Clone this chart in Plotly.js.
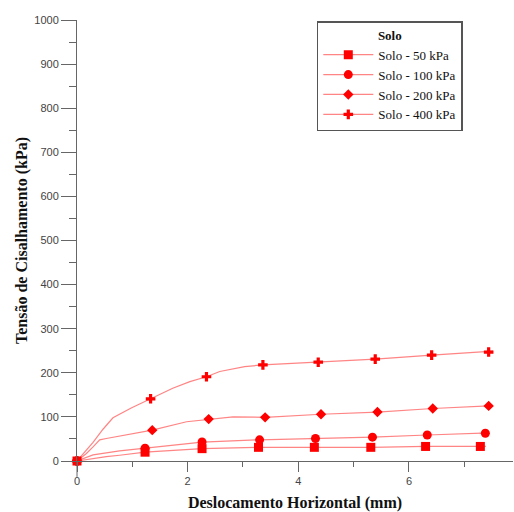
<!DOCTYPE html>
<html>
<head>
<meta charset="utf-8">
<script src="https://cdn.plot.ly/plotly-3.0.1.min.js"></script>
<style>html,body{margin:0;padding:0;background:#fff;}#chart{width:514px;height:512px;}</style>
</head>
<body>
<div id="chart"></div>
<script>
// Series names
const seriesNames = ['Solo - 50 kPa', 'Solo - 100 kPa', 'Solo - 200 kPa', 'Solo - 400 kPa'];

// Curve points (mm, kPa)
const s50x  = [0, 0.29, 0.53, 0.77, 1.23, 2.26, 3.28, 4.29, 5.31, 6.30, 7.29, 7.39];
const s50y  = [0, 6, 10, 13, 20, 28, 31, 31, 31, 33, 33, 33];
const s100x = [0, 0.29, 0.77, 1.23, 2.26, 3.30, 4.31, 5.34, 6.33, 7.38, 7.45];
const s100y = [0, 14, 23, 29, 43, 48, 51, 54, 59, 63, 64];
const s200x = [0, 0.17, 0.29, 0.41, 0.53, 0.89, 1.36, 1.98, 2.38, 2.82, 3.40, 4.41, 5.43, 6.43, 7.44, 7.52];
const s200y = [0, 17, 32, 48, 51, 59, 70, 89, 95, 100, 99, 106, 111, 119, 125, 126];
const s400x = [0, 0.29, 0.47, 0.65, 0.98, 1.33, 1.73, 2.04, 2.34, 2.58, 3.03, 3.36, 4.36, 5.39, 6.41, 7.44, 7.52];
const s400y = [0, 42, 72, 98, 120, 141, 165, 180, 191, 203, 214, 218, 224, 231, 240, 247, 249];

// Indices of the points that carry a marker
const s50marks  = [0, 4, 5, 6, 7, 8, 9, 10];
const s100marks = [0, 3, 4, 5, 6, 7, 8, 9];
const s200marks = [0, 6, 8, 10, 11, 12, 13, 14];
const s400marks = [0, 5, 8, 11, 12, 13, 14, 15];

const xs = [s50x, s100x, s200x, s400x];
const ys = [s50y, s100y, s200y, s400y];
const markIdx = [s50marks, s100marks, s200marks, s400marks];
const symbols = ['square', 'circle', 'diamond', 'cross'];
const sizes = [9, 9, 8, 8];

const traces = [];
for (let i = 3; i >= 0; i--) {
  traces.push({
    x: xs[i], y: ys[i], type: 'scatter', mode: 'lines+markers',
    name: seriesNames[i], legendrank: i + 1,
    line: {color: 'rgba(255,80,80,0.7)', width: 1.2},
    marker: {symbol: symbols[i], size: sizes[i], color: '#ff0000', line: {width: 0}},
    selectedpoints: markIdx[i],
    selected: {marker: {opacity: 1}},
    unselected: {marker: {opacity: 0}},
    cliponaxis: false
  });
}

const serif = 'Liberation Serif, Times New Roman, serif';
const sans = 'Liberation Sans, Arial, sans-serif';

const layout = {
  width: 514, height: 512,
  margin: {l: 77, r: 1, t: 20, b: 51},
  paper_bgcolor: '#fff', plot_bgcolor: '#fff',
  showlegend: true,
  legend: {
    x: 0.55, y: 0.997, xanchor: 'left', yanchor: 'top',
    bgcolor: '#fff', bordercolor: '#555', borderwidth: 1.5,
    font: {family: serif, size: 13, color: '#111'},
    title: {text: 'Solo', side: 'top center', font: {family: serif, size: 13, color: '#111', weight: 'bold'}},
    itemwidth: 50, tracegroupgap: 0
  },
  xaxis: {
    range: [0, 7.88], showgrid: false, zeroline: false,
    showline: true, linecolor: '#666', linewidth: 1,
    ticks: 'outside', ticklen: 10, tickcolor: '#666', tickwidth: 1,
    dtick: 2, tick0: 0,
    minor: {dtick: 1, ticks: 'outside', ticklen: 5, tickcolor: '#666'},
    tickfont: {family: sans, size: 11, color: '#444'},
    title: {text: 'Deslocamento Horizontal (mm)', standoff: 19, font: {family: serif, size: 16, color: '#111', weight: 'bold'}},
    automargin: false
  },
  yaxis: {
    range: [0, 1000], showgrid: false, zeroline: false,
    showline: true, linecolor: '#666', linewidth: 1,
    ticks: 'outside', ticklen: 15, tickcolor: '#666', tickwidth: 1,
    dtick: 100, tick0: 0,
    minor: {dtick: 50, ticks: 'outside', ticklen: 7, tickcolor: '#666'},
    tickfont: {family: sans, size: 11, color: '#444'},
    title: {text: 'Tensão de Cisalhamento (kPa)', standoff: 2, font: {family: serif, size: 16, color: '#111', weight: 'bold'}},
    automargin: false
  },
  shapes: [
    {type: 'line', xref: 'paper', yref: 'paper', x0: 0, x1: 0, y0: 0, y1: -0.036, line: {color: '#666', width: 1}}
  ]
};

Plotly.newPlot('chart', traces, layout, {displayModeBar: false, staticPlot: true});
</script>
</body>
</html>
